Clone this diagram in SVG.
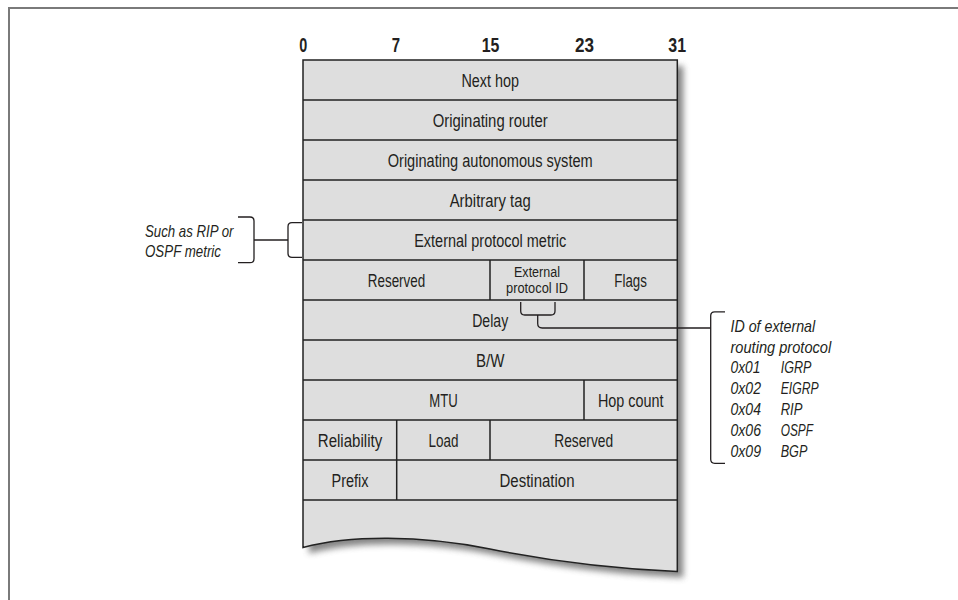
<svg xmlns="http://www.w3.org/2000/svg" width="958" height="600" viewBox="0 0 958 600">
<defs>
<filter id="sh" x="-10%" y="-10%" width="130%" height="130%">
<feGaussianBlur stdDeviation="3"/>
</filter>
<style>
.frame{fill:none;stroke:#7a7a7a;stroke-width:2}
.cell{fill:#dedede;stroke:#222;stroke-width:1.5}
.ln{fill:none;stroke:#222;stroke-width:1.5}
.br{fill:none;stroke:#231f20;stroke-width:1.3}
.t{font-family:"Liberation Sans",Arial,sans-serif;font-size:17.5px;fill:#231f20;text-anchor:middle}
.s{font-family:"Liberation Sans",Arial,sans-serif;font-size:15.5px;fill:#231f20;text-anchor:middle}
.h{font-family:"Liberation Sans",Arial,sans-serif;font-size:20px;font-weight:bold;fill:#231f20;text-anchor:middle}
.i{font-family:"Liberation Sans",Arial,sans-serif;font-size:17px;font-style:italic;fill:#231f20;text-anchor:start}
</style>
</defs>
<rect width="958" height="600" fill="#fff"/>
<path class="frame" d="M9,601 V8 H959"/>

<g id="header">
<text class="h" x="303.3" y="51.5" textLength="8" lengthAdjust="spacingAndGlyphs">0</text>
<text class="h" x="396" y="51.5" textLength="8.3" lengthAdjust="spacingAndGlyphs">7</text>
<text class="h" x="490.5" y="51.5" textLength="17.7" lengthAdjust="spacingAndGlyphs">15</text>
<text class="h" x="584.5" y="51.5" textLength="19" lengthAdjust="spacingAndGlyphs">23</text>
<text class="h" x="677.2" y="51.5" textLength="17.7" lengthAdjust="spacingAndGlyphs">31</text>
</g>

<g id="table">
<path d="M303,60 H677.3 V571.5 C620,569 560,563 490,549 C420,535 350,535 303,547.5 Z" fill="#666" opacity="0.8" filter="url(#sh)" transform="translate(6,6)"/>
<path class="cell" d="M303,60 H677.3 V571.5 C620,569 560,563 490,549 C420,535 350,535 303,547.5 Z"/>
<path class="ln" d="M303,100 H677.3 M303,140 H677.3 M303,180 H677.3 M303,220 H677.3 M303,260 H677.3 M303,300 H677.3 M303,340 H677.3 M303,380 H677.3 M303,420 H677.3 M303,460 H677.3 M303,500 H677.3"/>
<path class="ln" d="M490,260 V300 M584,260 V300 M584,380 V420 M396.7,420 V500 M490,420 V460"/>
</g>

<g id="next-hop"><text class="t" x="490.2" y="86.5" textLength="57.5" lengthAdjust="spacingAndGlyphs">Next hop</text></g>
<g id="originating-router"><text class="t" x="490.2" y="126.5" textLength="115" lengthAdjust="spacingAndGlyphs">Originating router</text></g>
<g id="originating-as"><text class="t" x="490.2" y="166.5" textLength="205" lengthAdjust="spacingAndGlyphs">Originating autonomous system</text></g>
<g id="arbitrary-tag"><text class="t" x="490.2" y="206.5" textLength="81" lengthAdjust="spacingAndGlyphs">Arbitrary tag</text></g>
<g id="external-protocol-metric"><text class="t" x="490.2" y="246.5" textLength="152" lengthAdjust="spacingAndGlyphs">External protocol metric</text></g>
<g id="reserved-1"><text class="t" x="396.5" y="286.5" textLength="57.5" lengthAdjust="spacingAndGlyphs">Reserved</text></g>
<g id="external-protocol-id">
<text class="s" x="537" y="277.3" textLength="46" lengthAdjust="spacingAndGlyphs">External</text>
<text class="s" x="537" y="292.5" textLength="62" lengthAdjust="spacingAndGlyphs">protocol ID</text>
</g>
<g id="flags"><text class="t" x="630.6" y="286.5" textLength="32.5" lengthAdjust="spacingAndGlyphs">Flags</text></g>
<g id="delay"><text class="t" x="490.2" y="326.5" textLength="36" lengthAdjust="spacingAndGlyphs">Delay</text></g>
<g id="bw"><text class="t" x="490.2" y="366.5" textLength="28.5" lengthAdjust="spacingAndGlyphs">B/W</text></g>
<g id="mtu"><text class="t" x="443.5" y="406.5" textLength="28.5" lengthAdjust="spacingAndGlyphs">MTU</text></g>
<g id="hop-count"><text class="t" x="630.7" y="406.5" textLength="65.5" lengthAdjust="spacingAndGlyphs">Hop count</text></g>
<g id="reliability"><text class="t" x="350" y="446.5" textLength="64.5" lengthAdjust="spacingAndGlyphs">Reliability</text></g>
<g id="load"><text class="t" x="443.4" y="446.5" textLength="30" lengthAdjust="spacingAndGlyphs">Load</text></g>
<g id="reserved-2"><text class="t" x="583.7" y="446.5" textLength="59" lengthAdjust="spacingAndGlyphs">Reserved</text></g>
<g id="prefix"><text class="t" x="350" y="486.5" textLength="37" lengthAdjust="spacingAndGlyphs">Prefix</text></g>
<g id="destination"><text class="t" x="537" y="486.5" textLength="75" lengthAdjust="spacingAndGlyphs">Destination</text></g>

<g id="note-metric">
<text class="i" x="145" y="236.7" textLength="88.5" lengthAdjust="spacingAndGlyphs">Such as RIP or</text>
<text class="i" x="145" y="257" textLength="76" lengthAdjust="spacingAndGlyphs">OSPF metric</text>
</g>

<g id="note-protocol-id">
<text class="i" x="730.5" y="331.7" textLength="84.7" lengthAdjust="spacingAndGlyphs">ID of external</text>
<text class="i" x="730.5" y="352.6" textLength="100.7" lengthAdjust="spacingAndGlyphs">routing protocol</text>
<text class="i" x="730.5" y="373.4" textLength="30" lengthAdjust="spacingAndGlyphs">0x01</text>
<text class="i" x="780.7" y="373.4" textLength="30.7" lengthAdjust="spacingAndGlyphs">IGRP</text>
<text class="i" x="730.5" y="394.2" textLength="30.5" lengthAdjust="spacingAndGlyphs">0x02</text>
<text class="i" x="780.7" y="394.2" textLength="38" lengthAdjust="spacingAndGlyphs">EIGRP</text>
<text class="i" x="730.5" y="415" textLength="30.5" lengthAdjust="spacingAndGlyphs">0x04</text>
<text class="i" x="780.7" y="415" textLength="21.7" lengthAdjust="spacingAndGlyphs">RIP</text>
<text class="i" x="730.5" y="435.8" textLength="30.5" lengthAdjust="spacingAndGlyphs">0x06</text>
<text class="i" x="780.7" y="435.8" textLength="32.3" lengthAdjust="spacingAndGlyphs">OSPF</text>
<text class="i" x="730.5" y="456.6" textLength="30.5" lengthAdjust="spacingAndGlyphs">0x09</text>
<text class="i" x="780.7" y="456.6" textLength="26.7" lengthAdjust="spacingAndGlyphs">BGP</text>
</g>

<g id="connectors">
<path class="br" d="M238,217 H250 Q254,217 254,221 V258.7 Q254,262.7 250,262.7 H238"/>
<path class="br" d="M254,240 H288"/>
<path class="br" d="M302,222.7 H292 Q288,222.7 288,226.7 V253.3 Q288,257.3 292,257.3 H302"/>
<path class="br" d="M520.7,302 V311 Q520.7,315 524.7,315 H551 Q555,315 555,311 V302"/>
<path class="br" d="M537.7,315 V323.5 Q537.7,328 542.2,328 H710.7"/>
<path class="br" d="M725,311.8 H714.7 Q710.7,311.8 710.7,315.8 V459.3 Q710.7,463.3 714.7,463.3 H725"/>
</g>
</svg>
